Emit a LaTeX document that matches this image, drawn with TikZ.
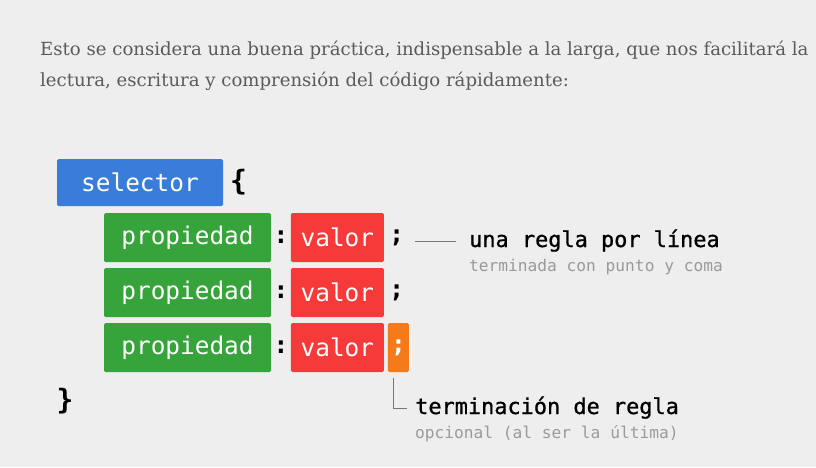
\documentclass[tikz,border=0pt]{standalone}
\usepackage{fontspec}
\setmainfont{DejaVu Serif}
\newfontfamily\cssmono{DejaVu Sans Mono}
\newfontfamily\cssmonomed[FakeBold=0.8]{DejaVu Sans Mono}
\usetikzlibrary{positioning,calc}
\definecolor{bggray}{HTML}{EEEEEE}
\definecolor{selblue}{HTML}{3A7DD8}
\definecolor{propgreen}{HTML}{36A43A}
\definecolor{valred}{HTML}{F63A3A}
\definecolor{endorange}{HTML}{F57A1A}
\definecolor{introgray}{HTML}{5A5A5A}
\definecolor{subgray}{HTML}{9A9A9A}
\definecolor{guidegray}{HTML}{777777}
\tikzset{
	css/.style={x=1pt,y=-1pt,node distance=2.6pt and 2.6pt},
	tok/.style={inner sep=0pt,outer sep=0pt,font=\cssmono\fontsize{24.4}{24.4}\selectfont},
	tok box/.style={tok,rounded corners=1.5pt,text=white,minimum height=49pt},
	sel box/.style={tok box,fill=selblue,minimum width=166pt,minimum height=47pt},
	prop box/.style={tok box,fill=propgreen,minimum width=167pt},
	val box/.style={tok box,fill=valred,minimum width=93pt},
	end box/.style={tok box,fill=endorange,minimum width=21pt,font=\cssmono\bfseries\fontsize{24.4}{24.4}\selectfont},
	punct/.style={tok,font=\cssmono\bfseries\fontsize{24.4}{24.4}\selectfont},
	brace/.style={tok,font=\cssmono\bfseries\fontsize{28}{28}\selectfont},
	note/.style={inner sep=0pt,anchor=west,text height=16.5pt,text depth=5.5pt,
		font=\cssmonomed\fontsize{21.9}{21.9}\selectfont},
	sub note/.style={inner sep=0pt,anchor=base west,text=subgray,
		font=\cssmono\fontsize{16.2}{16.2}\selectfont},
	intro/.style={inner sep=0pt,anchor=base west,text=introgray,font=\fontsize{18.1}{18.1}\selectfont},
	guide/.style={draw=guidegray,line width=1pt}
}

\begin{document}
\begin{tikzpicture}[css]
  \useasboundingbox[fill=bggray] (0,0) rectangle (816,467);
  \node[intro] (intro1) at (40,55) {Esto se considera una buena práctica, indispensable a la larga, que nos facilitará la};
  \node[intro] (intro2) at ([yshift=-31pt]intro1.base west) {lectura, escritura y comprensión del código rápidamente:};
  \node[sel box] (sel) at (140,182.5) {selector};
  \node[brace, right=7pt of sel] (open) {\{};
  \foreach \i/\y in {1/237.5,2/292.5,3/347.5}{
    \node[prop box] (prop\i) at (187.5,\y) {propiedad};
    \node[punct, right=of prop\i] (colon\i) {:};
    \node[val box, right=of colon\i] (val\i) {valor};
  }
  \node[punct, right=5.6pt of val1] (semi1) {;};
  \node[punct, right=5.6pt of val2] (semi2) {;};
  \node[end box, right=4pt of val3] (semi3) {;};
  \node[brace] (close) at (65,401) {\}};
  \node[note] (rule1) at (469,241.5) {una regla por línea};
  \node[sub note] (rule1sub) at ([yshift=-24pt]rule1.base west) {terminada con punto y coma};
  \draw[guide, shorten <=11pt, shorten >=13pt] (semi1.east |- rule1.west) -- (rule1.west);
  \node[note] (rule2) at (415,408.5) {terminación de regla};
  \node[sub note] (rule2sub) at ([yshift=-24pt]rule2.base west) {opcional (al ser la última)};
  \draw[guide] ([xshift=-5pt,yshift=-6pt]semi3.south) |- ([xshift=-8pt]rule2.west);
\end{tikzpicture}
\end{document}
